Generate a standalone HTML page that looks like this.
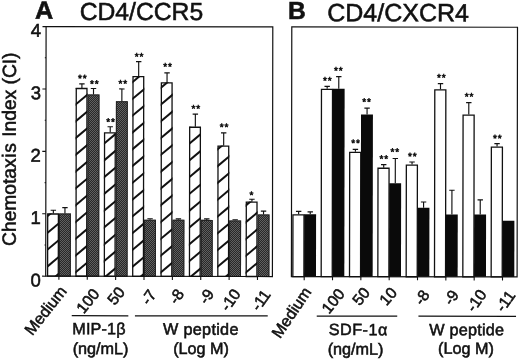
<!DOCTYPE html>
<html><head><meta charset="utf-8"><title>Chemotaxis Index</title>
<style>
html,body{margin:0;padding:0;background:#fff;}
body{width:520px;height:360px;overflow:hidden;}
svg{display:block;will-change:transform;font-family:"Liberation Sans",sans-serif;fill:#111;}
text{stroke:#111;stroke-width:0.55px;}
</style></head><body>
<svg width="520" height="360" viewBox="0 0 520 360">
<rect width="520" height="360" fill="#fff"/>
<g transform="rotate(0.09 281 150)">
<defs><pattern id="chk" width="2" height="2" patternUnits="userSpaceOnUse" patternTransform="rotate(-0.09 281 150)"><rect width="2" height="2" fill="#282828"/><rect width="1" height="1" fill="#606060"/><rect x="1" y="1" width="1" height="1" fill="#606060"/></pattern></defs>
<clipPath id="c0"><rect x="47.2" y="213.75" width="11.9" height="62.80000000000001"/></clipPath>
<rect x="47.2" y="213.75" width="11.9" height="62.80000000000001" fill="#fff"/>
<g clip-path="url(#c0)" stroke="#111" stroke-width="2.0"><line x1="46.2" y1="217.64" x2="60.1" y2="205.96"/><line x1="46.2" y1="234.44" x2="60.1" y2="222.76"/><line x1="46.2" y1="251.24" x2="60.1" y2="239.56"/><line x1="46.2" y1="268.04" x2="60.1" y2="256.36"/><line x1="46.2" y1="284.84" x2="60.1" y2="273.16"/><line x1="46.2" y1="301.64" x2="60.1" y2="289.96"/></g>
<rect x="47.800000000000004" y="214.35" width="10.700000000000001" height="62.20000000000001" fill="none" stroke="#111" stroke-width="1.3"/>
<path d="M53.45 213.75V210.6M50.75 210.6H56.150000000000006" stroke="#111" stroke-width="1.15" fill="none"/>
<rect x="59.1" y="213.75" width="11.9" height="62.80000000000001" fill="url(#chk)"/>
<rect x="59.6" y="214.25" width="10.9" height="62.30000000000001" fill="none" stroke="#222" stroke-width="1"/>
<path d="M65.05000000000001 213.75V208.0M62.35000000000001 208.0H67.75000000000001" stroke="#111" stroke-width="1.15" fill="none"/>
<clipPath id="c1"><rect x="75.57000000000001" y="88.2" width="11.9" height="188.35000000000002"/></clipPath>
<rect x="75.57000000000001" y="88.2" width="11.9" height="188.35000000000002" fill="#fff"/>
<g clip-path="url(#c1)" stroke="#111" stroke-width="2.0"><line x1="74.57000000000001" y1="88.84" x2="88.47000000000001" y2="77.16"/><line x1="74.57000000000001" y1="105.64" x2="88.47000000000001" y2="93.96"/><line x1="74.57000000000001" y1="122.44" x2="88.47000000000001" y2="110.76"/><line x1="74.57000000000001" y1="139.24" x2="88.47000000000001" y2="127.56"/><line x1="74.57000000000001" y1="156.04" x2="88.47000000000001" y2="144.36"/><line x1="74.57000000000001" y1="172.84" x2="88.47000000000001" y2="161.16"/><line x1="74.57000000000001" y1="189.64" x2="88.47000000000001" y2="177.96"/><line x1="74.57000000000001" y1="206.44" x2="88.47000000000001" y2="194.76"/><line x1="74.57000000000001" y1="223.24" x2="88.47000000000001" y2="211.56"/><line x1="74.57000000000001" y1="240.04" x2="88.47000000000001" y2="228.36"/><line x1="74.57000000000001" y1="256.84" x2="88.47000000000001" y2="245.16"/><line x1="74.57000000000001" y1="273.64" x2="88.47000000000001" y2="261.96"/><line x1="74.57000000000001" y1="290.44" x2="88.47000000000001" y2="278.76"/><line x1="74.57000000000001" y1="307.24" x2="88.47000000000001" y2="295.56"/></g>
<rect x="76.17" y="88.8" width="10.700000000000001" height="187.75000000000003" fill="none" stroke="#111" stroke-width="1.3"/>
<path d="M81.82000000000001 88.2V84.2M79.12 84.2H84.52000000000001" stroke="#111" stroke-width="1.15" fill="none"/>
<text x="82.67" y="82.15" font-size="10" text-anchor="middle" letter-spacing="0.85">**</text>
<rect x="87.47000000000001" y="94.8" width="11.9" height="181.75" fill="url(#chk)"/>
<rect x="87.97000000000001" y="95.3" width="10.9" height="181.25" fill="none" stroke="#222" stroke-width="1"/>
<path d="M93.42000000000002 94.8V88.8M90.72000000000001 88.8H96.12000000000002" stroke="#111" stroke-width="1.15" fill="none"/>
<text x="94.77" y="87.65" font-size="10" text-anchor="middle" letter-spacing="0.85">**</text>
<clipPath id="c2"><rect x="103.94" y="132.5" width="11.9" height="144.05"/></clipPath>
<rect x="103.94" y="132.5" width="11.9" height="144.05" fill="#fff"/>
<g clip-path="url(#c2)" stroke="#111" stroke-width="2.0"><line x1="102.94" y1="144.84" x2="116.84" y2="133.16"/><line x1="102.94" y1="161.64" x2="116.84" y2="149.96"/><line x1="102.94" y1="178.44" x2="116.84" y2="166.76"/><line x1="102.94" y1="195.24" x2="116.84" y2="183.56"/><line x1="102.94" y1="212.04" x2="116.84" y2="200.36"/><line x1="102.94" y1="228.84" x2="116.84" y2="217.16"/><line x1="102.94" y1="245.64" x2="116.84" y2="233.96"/><line x1="102.94" y1="262.44" x2="116.84" y2="250.76"/><line x1="102.94" y1="279.24" x2="116.84" y2="267.56"/><line x1="102.94" y1="296.04" x2="116.84" y2="284.36"/></g>
<rect x="104.53999999999999" y="133.1" width="10.700000000000001" height="143.45000000000002" fill="none" stroke="#111" stroke-width="1.3"/>
<path d="M110.19 132.5V127.0M107.49 127.0H112.89" stroke="#111" stroke-width="1.15" fill="none"/>
<text x="111.04" y="125.65" font-size="10" text-anchor="middle" letter-spacing="0.85">**</text>
<rect x="115.84" y="101.5" width="11.9" height="175.05" fill="url(#chk)"/>
<rect x="116.34" y="102.0" width="10.9" height="174.55" fill="none" stroke="#222" stroke-width="1"/>
<path d="M121.78999999999999 101.5V89.2M119.08999999999999 89.2H124.49" stroke="#111" stroke-width="1.15" fill="none"/>
<text x="123.14" y="87.25" font-size="10" text-anchor="middle" letter-spacing="0.85">**</text>
<clipPath id="c3"><rect x="132.31" y="76.2" width="11.9" height="200.35000000000002"/></clipPath>
<rect x="132.31" y="76.2" width="11.9" height="200.35000000000002" fill="#fff"/>
<g clip-path="url(#c3)" stroke="#111" stroke-width="2.0"><line x1="131.31" y1="83.24" x2="145.21" y2="71.56"/><line x1="131.31" y1="100.04" x2="145.21" y2="88.36"/><line x1="131.31" y1="116.84" x2="145.21" y2="105.16"/><line x1="131.31" y1="133.64" x2="145.21" y2="121.96"/><line x1="131.31" y1="150.44" x2="145.21" y2="138.76"/><line x1="131.31" y1="167.24" x2="145.21" y2="155.56"/><line x1="131.31" y1="184.04" x2="145.21" y2="172.36"/><line x1="131.31" y1="200.84" x2="145.21" y2="189.16"/><line x1="131.31" y1="217.64" x2="145.21" y2="205.96"/><line x1="131.31" y1="234.44" x2="145.21" y2="222.76"/><line x1="131.31" y1="251.24" x2="145.21" y2="239.56"/><line x1="131.31" y1="268.04" x2="145.21" y2="256.36"/><line x1="131.31" y1="284.84" x2="145.21" y2="273.16"/><line x1="131.31" y1="301.64" x2="145.21" y2="289.96"/></g>
<rect x="132.91" y="76.8" width="10.700000000000001" height="199.75000000000003" fill="none" stroke="#111" stroke-width="1.3"/>
<path d="M138.56 76.2V61.8M135.86 61.8H141.26" stroke="#111" stroke-width="1.15" fill="none"/>
<text x="139.41" y="60.15" font-size="10" text-anchor="middle" letter-spacing="0.85">**</text>
<rect x="144.21" y="220.0" width="11.9" height="56.55000000000001" fill="url(#chk)"/>
<rect x="144.71" y="220.5" width="10.9" height="56.05000000000001" fill="none" stroke="#222" stroke-width="1"/>
<path d="M150.16 220.0V219.0M147.46 219.0H152.85999999999999" stroke="#111" stroke-width="1.15" fill="none"/>
<clipPath id="c4"><rect x="160.68" y="82.5" width="11.9" height="194.05"/></clipPath>
<rect x="160.68" y="82.5" width="11.9" height="194.05" fill="#fff"/>
<g clip-path="url(#c4)" stroke="#111" stroke-width="2.0"><line x1="159.68" y1="88.84" x2="173.58" y2="77.16"/><line x1="159.68" y1="105.64" x2="173.58" y2="93.96"/><line x1="159.68" y1="122.44" x2="173.58" y2="110.76"/><line x1="159.68" y1="139.24" x2="173.58" y2="127.56"/><line x1="159.68" y1="156.04" x2="173.58" y2="144.36"/><line x1="159.68" y1="172.84" x2="173.58" y2="161.16"/><line x1="159.68" y1="189.64" x2="173.58" y2="177.96"/><line x1="159.68" y1="206.44" x2="173.58" y2="194.76"/><line x1="159.68" y1="223.24" x2="173.58" y2="211.56"/><line x1="159.68" y1="240.04" x2="173.58" y2="228.36"/><line x1="159.68" y1="256.84" x2="173.58" y2="245.16"/><line x1="159.68" y1="273.64" x2="173.58" y2="261.96"/><line x1="159.68" y1="290.44" x2="173.58" y2="278.76"/><line x1="159.68" y1="307.24" x2="173.58" y2="295.56"/></g>
<rect x="161.28" y="83.1" width="10.700000000000001" height="193.45000000000002" fill="none" stroke="#111" stroke-width="1.3"/>
<path d="M166.93 82.5V73.0M164.23000000000002 73.0H169.63" stroke="#111" stroke-width="1.15" fill="none"/>
<text x="167.78" y="70.15" font-size="10" text-anchor="middle" letter-spacing="0.85">**</text>
<rect x="172.58" y="220.0" width="11.9" height="56.55000000000001" fill="url(#chk)"/>
<rect x="173.08" y="220.5" width="10.9" height="56.05000000000001" fill="none" stroke="#222" stroke-width="1"/>
<path d="M178.53 220.0V219.0M175.83 219.0H181.23" stroke="#111" stroke-width="1.15" fill="none"/>
<clipPath id="c5"><rect x="189.05" y="126.8" width="11.9" height="149.75"/></clipPath>
<rect x="189.05" y="126.8" width="11.9" height="149.75" fill="#fff"/>
<g clip-path="url(#c5)" stroke="#111" stroke-width="2.0"><line x1="188.05" y1="128.04" x2="201.95000000000002" y2="116.36"/><line x1="188.05" y1="144.84" x2="201.95000000000002" y2="133.16"/><line x1="188.05" y1="161.64" x2="201.95000000000002" y2="149.96"/><line x1="188.05" y1="178.44" x2="201.95000000000002" y2="166.76"/><line x1="188.05" y1="195.24" x2="201.95000000000002" y2="183.56"/><line x1="188.05" y1="212.04" x2="201.95000000000002" y2="200.36"/><line x1="188.05" y1="228.84" x2="201.95000000000002" y2="217.16"/><line x1="188.05" y1="245.64" x2="201.95000000000002" y2="233.96"/><line x1="188.05" y1="262.44" x2="201.95000000000002" y2="250.76"/><line x1="188.05" y1="279.24" x2="201.95000000000002" y2="267.56"/><line x1="188.05" y1="296.04" x2="201.95000000000002" y2="284.36"/></g>
<rect x="189.65" y="127.39999999999999" width="10.700000000000001" height="149.15" fill="none" stroke="#111" stroke-width="1.3"/>
<path d="M195.3 126.8V114.2M192.60000000000002 114.2H198.0" stroke="#111" stroke-width="1.15" fill="none"/>
<text x="196.15" y="112.15" font-size="10" text-anchor="middle" letter-spacing="0.85">**</text>
<rect x="200.95000000000002" y="220.0" width="11.9" height="56.55000000000001" fill="url(#chk)"/>
<rect x="201.45000000000002" y="220.5" width="10.9" height="56.05000000000001" fill="none" stroke="#222" stroke-width="1"/>
<path d="M206.9 220.0V219.0M204.20000000000002 219.0H209.6" stroke="#111" stroke-width="1.15" fill="none"/>
<clipPath id="c6"><rect x="217.42000000000002" y="145.7" width="11.9" height="130.85000000000002"/></clipPath>
<rect x="217.42000000000002" y="145.7" width="11.9" height="130.85000000000002" fill="#fff"/>
<g clip-path="url(#c6)" stroke="#111" stroke-width="2.0"><line x1="216.42000000000002" y1="150.44" x2="230.32000000000002" y2="138.76"/><line x1="216.42000000000002" y1="167.24" x2="230.32000000000002" y2="155.56"/><line x1="216.42000000000002" y1="184.04" x2="230.32000000000002" y2="172.36"/><line x1="216.42000000000002" y1="200.84" x2="230.32000000000002" y2="189.16"/><line x1="216.42000000000002" y1="217.64" x2="230.32000000000002" y2="205.96"/><line x1="216.42000000000002" y1="234.44" x2="230.32000000000002" y2="222.76"/><line x1="216.42000000000002" y1="251.24" x2="230.32000000000002" y2="239.56"/><line x1="216.42000000000002" y1="268.04" x2="230.32000000000002" y2="256.36"/><line x1="216.42000000000002" y1="284.84" x2="230.32000000000002" y2="273.16"/><line x1="216.42000000000002" y1="301.64" x2="230.32000000000002" y2="289.96"/></g>
<rect x="218.02" y="146.29999999999998" width="10.700000000000001" height="130.25000000000003" fill="none" stroke="#111" stroke-width="1.3"/>
<path d="M223.67000000000002 145.7V133.0M220.97000000000003 133.0H226.37" stroke="#111" stroke-width="1.15" fill="none"/>
<text x="224.52" y="130.65" font-size="10" text-anchor="middle" letter-spacing="0.85">**</text>
<rect x="229.32000000000002" y="220.5" width="11.9" height="56.05000000000001" fill="url(#chk)"/>
<rect x="229.82000000000002" y="221.0" width="10.9" height="55.55000000000001" fill="none" stroke="#222" stroke-width="1"/>
<path d="M235.27 220.5V219.8M232.57000000000002 219.8H237.97" stroke="#111" stroke-width="1.15" fill="none"/>
<clipPath id="c7"><rect x="245.79000000000002" y="201.6" width="11.9" height="74.95000000000002"/></clipPath>
<rect x="245.79000000000002" y="201.6" width="11.9" height="74.95000000000002" fill="#fff"/>
<g clip-path="url(#c7)" stroke="#111" stroke-width="2.0"><line x1="244.79000000000002" y1="206.44" x2="258.69" y2="194.76"/><line x1="244.79000000000002" y1="223.24" x2="258.69" y2="211.56"/><line x1="244.79000000000002" y1="240.04" x2="258.69" y2="228.36"/><line x1="244.79000000000002" y1="256.84" x2="258.69" y2="245.16"/><line x1="244.79000000000002" y1="273.64" x2="258.69" y2="261.96"/><line x1="244.79000000000002" y1="290.44" x2="258.69" y2="278.76"/><line x1="244.79000000000002" y1="307.24" x2="258.69" y2="295.56"/></g>
<rect x="246.39000000000001" y="202.2" width="10.700000000000001" height="74.35000000000002" fill="none" stroke="#111" stroke-width="1.3"/>
<path d="M252.04000000000002 201.6V199.3M249.34000000000003 199.3H254.74" stroke="#111" stroke-width="1.15" fill="none"/>
<text x="251.99" y="198.55" font-size="10" text-anchor="middle" letter-spacing="0.85">*</text>
<rect x="257.69" y="214.5" width="11.9" height="62.05000000000001" fill="url(#chk)"/>
<rect x="258.19" y="215.0" width="10.9" height="61.55000000000001" fill="none" stroke="#222" stroke-width="1"/>
<path d="M263.64000000000004 214.5V211.2M260.94000000000005 211.2H266.34000000000003" stroke="#111" stroke-width="1.15" fill="none"/>
<rect x="45.9" y="26.9" width="226.70000000000002" height="249.65" fill="none" stroke="#111" stroke-width="1.2"/>
<rect x="293.05" y="214.85" width="11.05" height="61.70000000000001" fill="#fff" stroke="#111" stroke-width="1.3"/>
<path d="M298.75 214.25V211.3M296.05 211.3H301.45" stroke="#111" stroke-width="1.15" fill="none"/>
<rect x="304.3" y="214.25" width="11.9" height="62.30000000000001" fill="#0a0a0a"/>
<path d="M310.35 214.25V211.8M307.65000000000003 211.8H313.05" stroke="#111" stroke-width="1.15" fill="none"/>
<rect x="321.38" y="89.35" width="11.05" height="187.20000000000002" fill="#fff" stroke="#111" stroke-width="1.3"/>
<path d="M327.08 88.75V86.3M324.38 86.3H329.78" stroke="#111" stroke-width="1.15" fill="none"/>
<text x="327.73" y="83.85" font-size="10" text-anchor="middle" letter-spacing="0.85">**</text>
<rect x="332.63" y="88.75" width="11.9" height="187.8" fill="#0a0a0a"/>
<path d="M338.68 88.75V76.5M335.98 76.5H341.38" stroke="#111" stroke-width="1.15" fill="none"/>
<text x="338.63" y="73.95" font-size="10" text-anchor="middle" letter-spacing="0.85">**</text>
<rect x="349.71000000000004" y="152.35" width="11.05" height="124.20000000000002" fill="#fff" stroke="#111" stroke-width="1.3"/>
<path d="M355.41 151.75V149.3M352.71000000000004 149.3H358.11" stroke="#111" stroke-width="1.15" fill="none"/>
<text x="356.06" y="146.45" font-size="10" text-anchor="middle" letter-spacing="0.85">**</text>
<rect x="360.96000000000004" y="114.25" width="11.9" height="162.3" fill="#0a0a0a"/>
<path d="M367.01000000000005 114.25V108.0M364.31000000000006 108.0H369.71000000000004" stroke="#111" stroke-width="1.15" fill="none"/>
<text x="366.96" y="105.15" font-size="10" text-anchor="middle" letter-spacing="0.85">**</text>
<rect x="378.04" y="168.1" width="11.05" height="108.45000000000002" fill="#fff" stroke="#111" stroke-width="1.3"/>
<path d="M383.74 167.5V164.5M381.04 164.5H386.44" stroke="#111" stroke-width="1.15" fill="none"/>
<text x="384.39" y="162.15" font-size="10" text-anchor="middle" letter-spacing="0.85">**</text>
<rect x="389.29" y="183.0" width="11.9" height="93.55000000000001" fill="#0a0a0a"/>
<path d="M395.34000000000003 183.0V158.3M392.64000000000004 158.3H398.04" stroke="#111" stroke-width="1.15" fill="none"/>
<text x="395.29" y="155.15" font-size="10" text-anchor="middle" letter-spacing="0.85">**</text>
<rect x="406.37" y="164.85" width="11.05" height="111.70000000000002" fill="#fff" stroke="#111" stroke-width="1.3"/>
<path d="M412.07 164.25V161.8M409.37 161.8H414.77" stroke="#111" stroke-width="1.15" fill="none"/>
<text x="412.72" y="159.55" font-size="10" text-anchor="middle" letter-spacing="0.85">**</text>
<rect x="417.62" y="207.5" width="11.9" height="69.05000000000001" fill="#0a0a0a"/>
<path d="M423.67 207.5V201.8M420.97 201.8H426.37" stroke="#111" stroke-width="1.15" fill="none"/>
<rect x="434.7" y="89.69999999999999" width="11.05" height="186.85000000000002" fill="#fff" stroke="#111" stroke-width="1.3"/>
<path d="M440.4 89.1V83.4M437.7 83.4H443.09999999999997" stroke="#111" stroke-width="1.15" fill="none"/>
<text x="441.55" y="80.65" font-size="10" text-anchor="middle" letter-spacing="0.85">**</text>
<rect x="445.95" y="214.25" width="11.9" height="62.30000000000001" fill="#0a0a0a"/>
<path d="M452.0 214.25V190.0M449.3 190.0H454.7" stroke="#111" stroke-width="1.15" fill="none"/>
<rect x="463.03" y="114.85" width="11.05" height="161.70000000000002" fill="#fff" stroke="#111" stroke-width="1.3"/>
<path d="M468.72999999999996 114.25V102.3M466.03 102.3H471.42999999999995" stroke="#111" stroke-width="1.15" fill="none"/>
<text x="469.38" y="99.75" font-size="10" text-anchor="middle" letter-spacing="0.85">**</text>
<rect x="474.28" y="214.25" width="11.9" height="62.30000000000001" fill="#0a0a0a"/>
<path d="M480.33 214.25V199.5M477.63 199.5H483.03" stroke="#111" stroke-width="1.15" fill="none"/>
<rect x="491.36" y="146.85" width="11.05" height="129.70000000000002" fill="#fff" stroke="#111" stroke-width="1.3"/>
<path d="M497.06 146.25V143.3M494.36 143.3H499.76" stroke="#111" stroke-width="1.15" fill="none"/>
<text x="497.71" y="141.45" font-size="10" text-anchor="middle" letter-spacing="0.85">**</text>
<rect x="502.61" y="220.5" width="11.9" height="56.05000000000001" fill="#0a0a0a"/>
<rect x="291.6" y="26.9" width="225.69999999999993" height="249.65" fill="none" stroke="#111" stroke-width="1.2"/>
<path d="M59.10 276.55V280.15000000000003M87.47 276.55V280.15000000000003M115.84 276.55V280.15000000000003M144.21 276.55V280.15000000000003M172.58 276.55V280.15000000000003M200.95 276.55V280.15000000000003M229.32 276.55V280.15000000000003M257.69 276.55V280.15000000000003M304.40 276.55V280.15000000000003M332.73 276.55V280.15000000000003M361.06 276.55V280.15000000000003M389.39 276.55V280.15000000000003M417.72 276.55V280.15000000000003M446.05 276.55V280.15000000000003M474.38 276.55V280.15000000000003M502.71 276.55V280.15000000000003M42.3 276.55H45.9M42.3 214.15H45.9M42.3 151.75H45.9M42.3 89.35H45.9M42.3 26.95H45.9M44.699999999999996 245.35H45.9M44.699999999999996 182.95H45.9M44.699999999999996 120.55H45.9M44.699999999999996 58.15H45.9" stroke="#111" stroke-width="1.1" fill="none"/>
<text x="40.9" y="286.85" font-size="18.5" text-anchor="end">0</text>
<text x="40.9" y="224.45" font-size="18.5" text-anchor="end">1</text>
<text x="40.9" y="162.05" font-size="18.5" text-anchor="end">2</text>
<text x="40.9" y="99.65" font-size="18.5" text-anchor="end">3</text>
<text x="40.9" y="37.25" font-size="18.5" text-anchor="end">4</text>
<text transform="translate(15.8 246.3) rotate(-90)" font-size="19.2">Chemotax<tspan dx="0.6">i</tspan><tspan dx="0.9">s</tspan><tspan dx="1.0"> Index (CI)</tspan></text>
<text x="34.7" y="19.1" font-size="25.2" font-weight="bold">A</text>
<text x="79.5" y="20.2" font-size="24.7">CD4/CCR5</text>
<text x="287.8" y="19.1" font-size="24.6" font-weight="bold">B</text>
<text x="327" y="21.1" font-size="25">CD4/CXCR4</text>
<text transform="translate(67.6 291.8) rotate(-52)" font-size="16.0" text-anchor="end">Medium</text>
<text transform="translate(100.47000000000001 294.4) rotate(-51)" font-size="15.7" text-anchor="end">100</text>
<text transform="translate(126.04 292.7) rotate(-51)" font-size="15.7" text-anchor="end">50</text>
<text transform="translate(157.31 294.7) rotate(-55)" font-size="15.7" text-anchor="end">-7</text>
<text transform="translate(185.08 294.1) rotate(-55)" font-size="15.7" text-anchor="end">-8</text>
<text transform="translate(215.05 293.9) rotate(-55)" font-size="15.7" text-anchor="end">-9</text>
<text transform="translate(241.62000000000003 293.8) rotate(-55)" font-size="15.7" text-anchor="end">-10</text>
<text transform="translate(271.59 294.5) rotate(-55)" font-size="15.7" text-anchor="end">-11</text>
<text transform="translate(312.09999999999997 292.0) rotate(-56)" font-size="16.0" text-anchor="end">Medium</text>
<text transform="translate(345.72999999999996 294.2) rotate(-51)" font-size="15.7" text-anchor="end">100</text>
<text transform="translate(370.96 292.9) rotate(-51)" font-size="15.7" text-anchor="end">50</text>
<text transform="translate(398.09 293.1) rotate(-49)" font-size="15.7" text-anchor="end">10</text>
<text transform="translate(430.41999999999996 294.5) rotate(-55)" font-size="15.7" text-anchor="end">-8</text>
<text transform="translate(459.74999999999994 294.5) rotate(-55)" font-size="15.7" text-anchor="end">-9</text>
<text transform="translate(487.5799999999999 294.0) rotate(-55)" font-size="15.7" text-anchor="end">-10</text>
<text transform="translate(516.21 295.1) rotate(-55)" font-size="15.7" text-anchor="end">-11</text>
<path d="M72 316H128.6M135.2 316H268M317 316H397.5M418.7 316H516.3" stroke="#111" stroke-width="1.25" fill="none"/>
<text x="99.3" y="334.6" font-size="16.2" text-anchor="middle" letter-spacing="0.15">MIP-1β</text>
<text x="100.9" y="354.4" font-size="16.2" text-anchor="middle" letter-spacing="0">(ng/mL)</text>
<text x="201.2" y="334.8" font-size="16.2" text-anchor="middle" letter-spacing="0.3">W peptide</text>
<text x="201.4" y="354.2" font-size="16.2" text-anchor="middle" letter-spacing="0">(Log M)</text>
<text x="358.6" y="335.0" font-size="16.2" text-anchor="middle" letter-spacing="0.5">SDF-1α</text>
<text x="355.9" y="354.5" font-size="16.2" text-anchor="middle" letter-spacing="0">(ng/mL)</text>
<text x="467.1" y="335.0" font-size="16.2" text-anchor="middle" letter-spacing="0.25">W peptide</text>
<text x="466.3" y="353.6" font-size="16.2" text-anchor="middle" letter-spacing="0">(Log M)</text>
</g>
</svg>
</body></html>
